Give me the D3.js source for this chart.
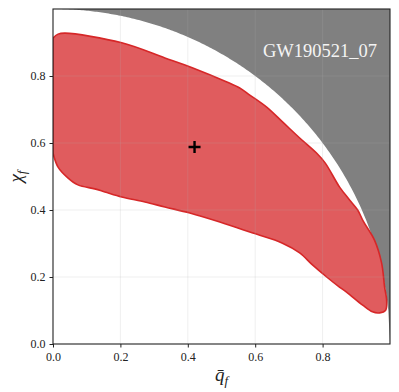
<!DOCTYPE html>
<html lang="en">
<head>
  <meta charset="UTF-8" />
  <title>GW190521_07 remnant q-chi</title>
  <script src="https://cdn.jsdelivr.net/npm/d3@7"></script>
  <style>
    html, body { margin: 0; padding: 0; background: #fff; overflow: hidden; }
    svg { display: block; }
  </style>
</head>
<body>
  <script>
    // ------ Data ------
    const xTicks = [0.0, 0.2, 0.4, 0.6, 0.8];
    const yTicks = [0.0, 0.2, 0.4, 0.6, 0.8];
    const eventLabel = "GW190521_07";
    const medianPoint = { q: 0.42, chi: 0.588 };

    // 90% contour, clockwise from the top of the left edge
    const contourQ = [0.000, 0.015, 0.036, 0.204, 0.332, 0.415, 0.516, 0.554, 0.584, 0.634,
                      0.681, 0.732, 0.782, 0.808, 0.850, 0.880, 0.904, 0.921, 0.954, 0.975,
                      0.984, 0.990, 0.987, 0.969, 0.948, 0.919, 0.871, 0.850, 0.812, 0.770,
                      0.732, 0.681, 0.593, 0.495, 0.406, 0.332, 0.273, 0.204, 0.154, 0.124,
                      0.074, 0.044, 0.015, 0.000];
    const contourChi = [0.913, 0.925, 0.928, 0.899, 0.854, 0.824, 0.782, 0.764, 0.743, 0.707,
                        0.663, 0.615, 0.570, 0.540, 0.469, 0.430, 0.400, 0.366, 0.310, 0.242,
                        0.170, 0.131, 0.101, 0.093, 0.096, 0.116, 0.155, 0.170, 0.200, 0.236,
                        0.272, 0.301, 0.331, 0.364, 0.391, 0.409, 0.424, 0.439, 0.454, 0.463,
                        0.475, 0.496, 0.528, 0.570];

    // forbidden region: chi_f > sqrt(1 - q_f^2)
    const bound = q => Math.sqrt(Math.max(0, 1 - q * q));

    // ------ Layout ------
    const W = 399, H = 392;
    const m = { left: 53, right: 9, top: 9, bottom: 48 };
    const serif = "'Liberation Serif', 'DejaVu Serif', serif";

    const x = d3.scaleLinear().domain([0, 1]).range([m.left, W - m.right]);
    const y = d3.scaleLinear().domain([0, 1]).range([H - m.bottom, m.top]);

    const svg = d3.select("body").append("svg").attr("width", W).attr("height", H);

    svg.append("defs").append("clipPath").attr("id", "plot")
      .append("rect")
      .attr("x", x(0)).attr("y", y(1))
      .attr("width", x(1) - x(0)).attr("height", y(0) - y(1));

    const plot = svg.append("g").attr("clip-path", "url(#plot)");

    // grey forbidden region
    const qs = d3.range(0, 1.0001, 0.005);
    const boundArea = d3.area()
      .x(q => x(q))
      .y0(() => y(1.05))
      .y1(q => y(bound(q)));
    plot.append("path")
      .attr("d", boundArea(qs))
      .attr("fill", "#808080");

    // contour
    const contour = contourQ.map((q, i) => [q, contourChi[i]]);
    const line = d3.line().x(d => x(d[0])).y(d => y(d[1])).curve(d3.curveCatmullRom.alpha(0.5));
    plot.append("path")
      .attr("d", line(contour) + "Z")
      .attr("fill", "#e05c5e")
      .attr("stroke", "#d62728")
      .attr("stroke-width", 1.6)
      .attr("stroke-linejoin", "round");

    // grid on top
    const grid = svg.append("g").attr("stroke", "rgba(176,176,176,0.25)").attr("stroke-width", 0.8);
    xTicks.slice(1).forEach(t => {
      grid.append("line").attr("x1", x(t)).attr("x2", x(t)).attr("y1", y(0)).attr("y2", y(1));
    });
    yTicks.slice(1).forEach(t => {
      grid.append("line").attr("x1", x(0)).attr("x2", x(1)).attr("y1", y(t)).attr("y2", y(t));
    });

    // median marker
    const px = x(medianPoint.q), py = y(medianPoint.chi), s = 6;
    svg.append("path")
      .attr("d", `M${px - s},${py}H${px + s}M${px},${py - s}V${py + s}`)
      .attr("stroke", "#000").attr("stroke-width", 2.4);

    // event label
    svg.append("text")
      .attr("x", 377).attr("y", 57)
      .attr("text-anchor", "end")
      .attr("font-family", serif)
      .attr("font-size", 18.5)
      .attr("fill", "#f4f4f4")
      .text(eventLabel);

    // axes
    const fmt = d3.format(".1f");
    const xAxis = svg.append("g")
      .attr("transform", `translate(0,${y(0)})`)
      .call(d3.axisBottom(x).tickValues(xTicks).tickFormat(fmt).tickSize(3.5).tickPadding(5));
    const yAxis = svg.append("g")
      .attr("transform", `translate(${x(0)},0)`)
      .call(d3.axisLeft(y).tickValues(yTicks).tickFormat(fmt).tickSize(3.5).tickPadding(4));
    [xAxis, yAxis].forEach(a => {
      a.select(".domain").remove();
      a.selectAll("line").attr("stroke", "#222").attr("stroke-width", 1);
      a.selectAll("text").attr("font-family", serif).attr("font-size", 12).attr("fill", "#222");
    });

    // frame
    svg.append("rect")
      .attr("x", x(0)).attr("y", y(1))
      .attr("width", x(1) - x(0)).attr("height", y(0) - y(1))
      .attr("fill", "none").attr("stroke", "#222").attr("stroke-width", 1.1);

    // axis labels
    const xl = svg.append("text")
      .attr("x", (x(0) + x(1)) / 2).attr("y", 381)
      .attr("text-anchor", "middle")
      .attr("font-family", serif).attr("font-size", 19).attr("font-style", "italic")
      .attr("fill", "#222");
    xl.append("tspan").text("q\u0304");
    xl.append("tspan").attr("font-size", 13).attr("dy", 4).text("f");

    const yl = svg.append("text")
      .attr("transform", `translate(22,${(y(0) + y(1)) / 2}) rotate(-90)`)
      .attr("text-anchor", "middle")
      .attr("font-family", serif).attr("font-size", 19).attr("font-style", "italic")
      .attr("fill", "#222");
    yl.append("tspan").text("\u03c7");
    yl.append("tspan").attr("font-size", 13).attr("dy", 4).text("f");
  </script>
</body>
</html>
